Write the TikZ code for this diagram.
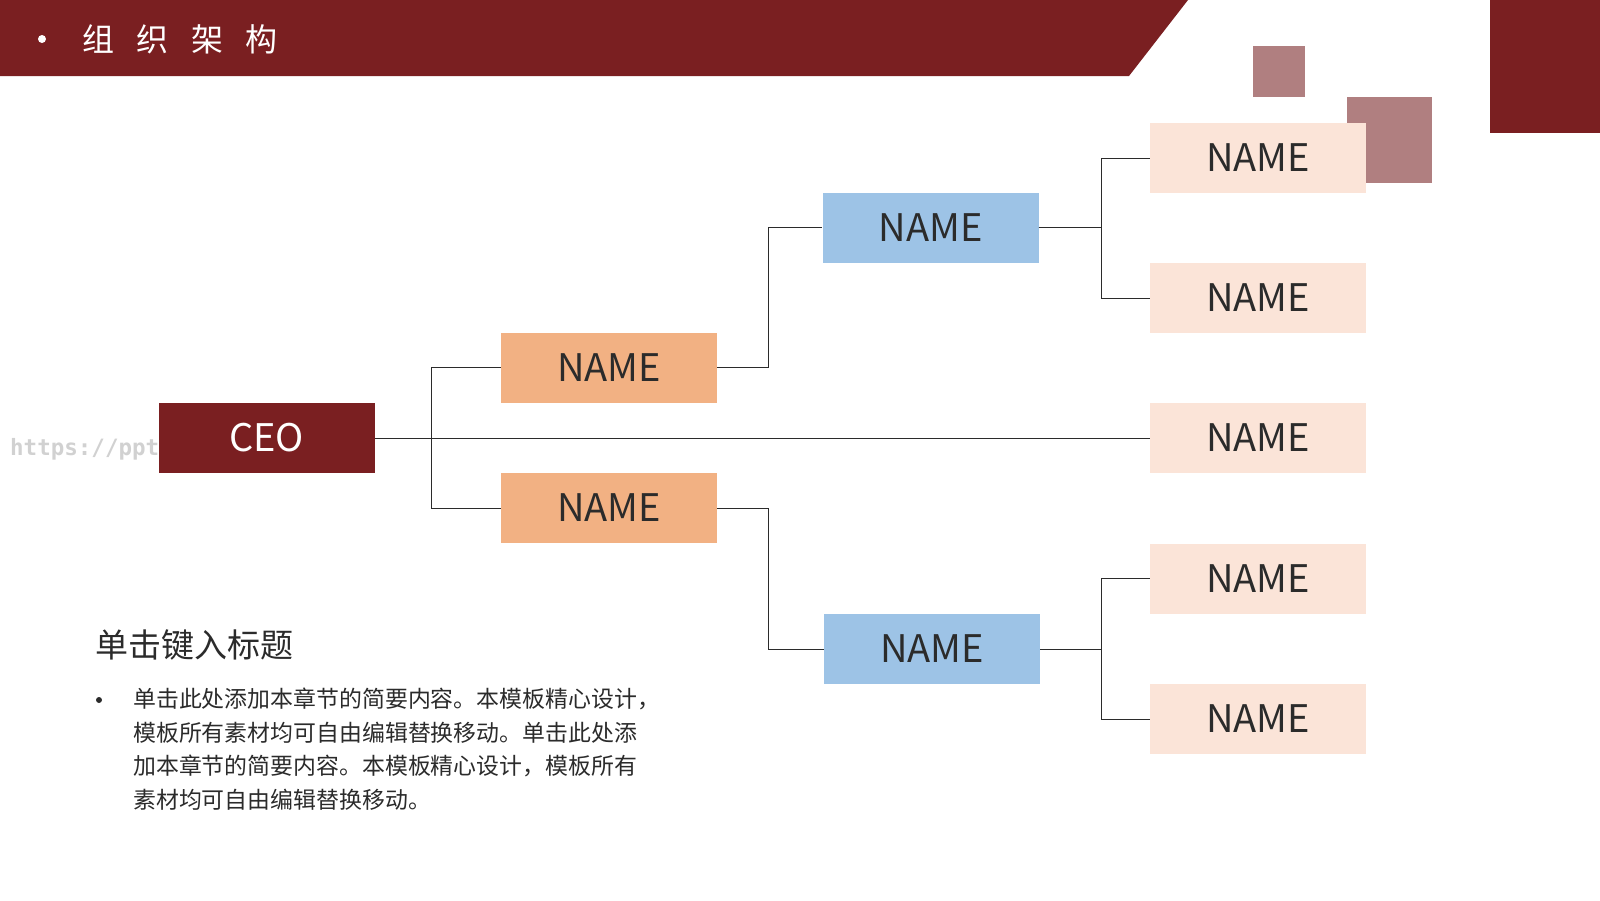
\documentclass[tikz,border=0pt]{standalone}
\usepackage{fontspec}
\setmainfont{Noto Sans CJK SC}
\newfontfamily\cjk{Noto Sans CJK SC}
\newfontfamily\wmark{DejaVu Sans Mono}
\usetikzlibrary{positioning}
\definecolor{darkred}{HTML}{7A1F21}
\definecolor{mauve}{HTML}{B07F80}
\definecolor{peach}{HTML}{FBE4D8}
\definecolor{apricot}{HTML}{F2B183}
\definecolor{skyblue}{HTML}{9DC3E6}
\definecolor{ink}{HTML}{2B2B2B}
\tikzset{
  box/.style={rectangle, draw=none, minimum width=216pt, minimum height=70pt, inner sep=0pt,
              font=\cjk\fontsize{38}{40}\selectfont, text=ink},
  ceobox/.style={box, fill=darkred, text=white},
  mgr/.style={box, fill=apricot},
  lead/.style={box, fill=skyblue},
  staff/.style={box, fill=peach},
  link/.style={draw=ink, line width=1pt},
}

\begin{document}
\begin{tikzpicture}[x=1pt, y=-1pt]
\useasboundingbox (0,0) rectangle (1600,900);

% header band and corner blocks
\fill[darkred] (0,0) -- (1188,0) -- (1129,76) -- (0,76) -- cycle;
\fill[darkred] (1490,0) rectangle (1600,133);
\fill[mauve] (1253,46) rectangle (1305,97);
\fill[mauve] (1347,97) rectangle (1432,183);
\fill[white] (42,39) circle (4);
\node[anchor=west, text=white, font=\cjk\fontsize{32}{34}\selectfont, inner sep=0pt] (title) at (82,39)
  {组\hspace{22.6pt}织\hspace{22.6pt}架\hspace{22.6pt}构};

% watermark
\node[anchor=west, text=black!18, font=\wmark\bfseries\fontsize{22.5}{24}\selectfont, inner sep=0pt] (wm) at (10,449) {https://ppt.};

% org chart
\node[ceobox] (ceo)    at (266.5,438) {CEO};
\node[mgr]    (mgrA)   at (609,367.5) {NAME};
\node[mgr]    (mgrB)   at (609,508)   {NAME};
\node[lead]   (leadA)  at (930.5,227.5) {NAME};
\node[lead]   (leadB)  at (932,649)   {NAME};
\node[staff]  (staffA) at (1258,158)  {NAME};
\node[staff]  (staffB) at (1258,298)  {NAME};
\node[staff]  (staffC) at (1258,438)  {NAME};
\node[staff]  (staffD) at (1258,578.5) {NAME};
\node[staff]  (staffE) at (1258,719)  {NAME};

\coordinate (forkA) at (431,438);
\draw[link] (ceo.east) -- (staffC.west);
\draw[link] (forkA) |- (mgrA.west);
\draw[link] (forkA) |- (mgrB.west);
\draw[link] (mgrA.east) -- ++(51,0) |- (leadA.west);
\draw[link] (mgrB.east) -- ++(51,0) |- (leadB.west);
\draw[link] (leadA.east) -- ++(63,0) |- (staffA.west);
\draw[link] (leadA.east) -- ++(63,0) |- (staffB.west);
\draw[link] (leadB.east) -- ++(61,0) |- (staffD.west);
\draw[link] (leadB.east) -- ++(61,0) |- (staffE.west);

% text block
\node[anchor=west, text=ink, font=\cjk\fontsize{33}{35}\selectfont, inner sep=0pt] (head) at (95,645) {单击键入标题};
\fill[ink] (99,700) circle (3);
\node[anchor=north west, text=ink, align=left, font=\cjk\fontsize{22.9}{33.6}\selectfont, inner sep=0pt] (body) at (133,688)
  {单击此处添加本章节的简要内容。本模板精心设计，\\
   模板所有素材均可自由编辑替换移动。单击此处添\\
   加本章节的简要内容。本模板精心设计，模板所有\\
   素材均可自由编辑替换移动。};
\end{tikzpicture}
\end{document}
